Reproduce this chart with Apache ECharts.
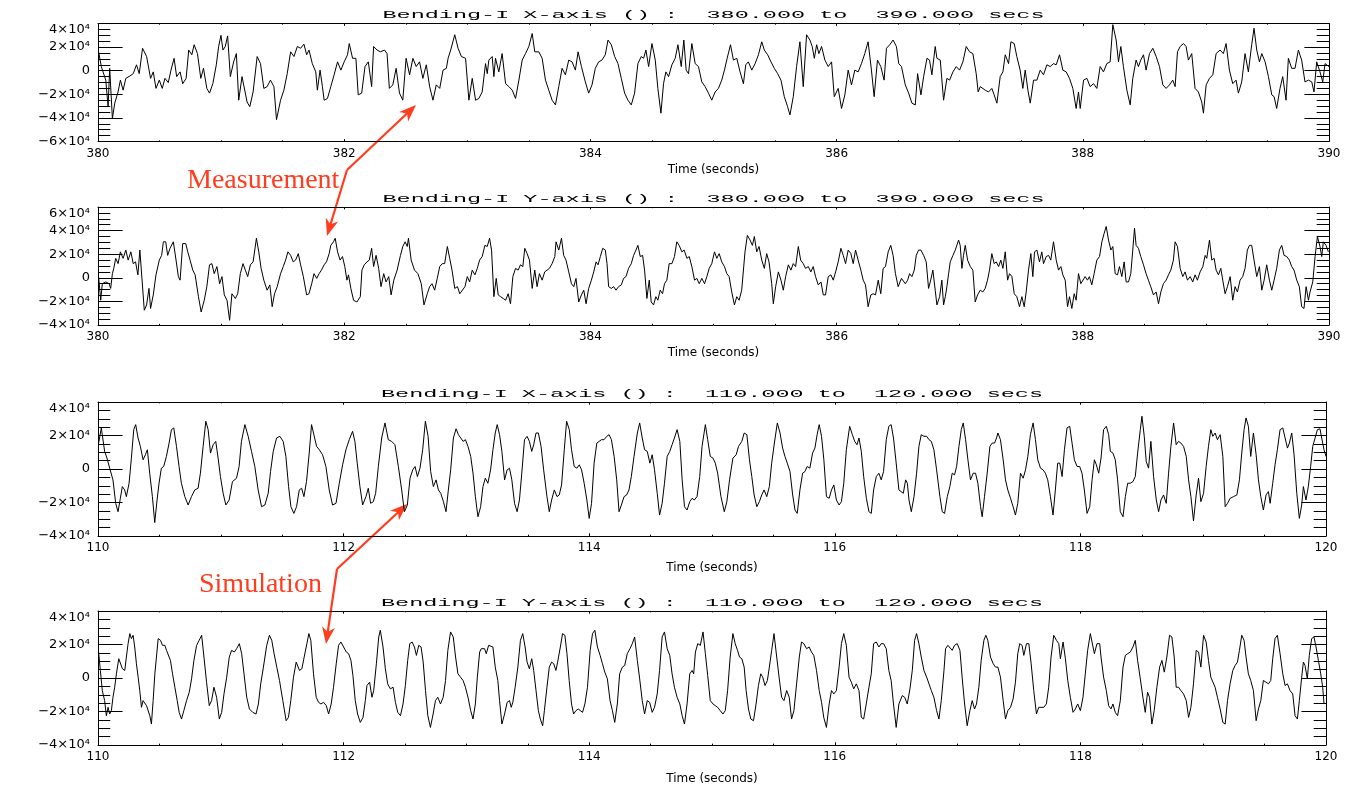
<!DOCTYPE html>
<html>
<head>
<meta charset="utf-8">
<script src="https://cdn.jsdelivr.net/npm/echarts@6/dist/echarts.min.js"></script>
<style>
html,body{margin:0;padding:0;background:#fff;}
#chart{width:1357px;height:786px;}
</style>
</head>
<body>
<div id="chart"></div>
<script>
// ---------------- DATA ----------------
const panelTitles = [
  'Bending-I X-axis () :  380.000 to  390.000 secs',
  'Bending-I Y-axis () :  380.000 to  390.000 secs',
  'Bending-I X-axis () :  110.000 to  120.000 secs',
  'Bending-I Y-axis () :  110.000 to  120.000 secs'
];
const xAxisName = 'Time (seconds)';
const measuredRange = [380, 390];
const simulatedRange = [110, 120];
const yRanges = [[-60000, 40000], [-40000, 60000], [-40000, 40000], [-40000, 40000]];
const yTickValues = [-60000, -40000, -20000, 0, 20000, 40000, 60000];
const yTickLabels = ['\u22126\u00d710\u2074', '\u22124\u00d710\u2074', '\u22122\u00d710\u2074', '0', '2\u00d710\u2074', '4\u00d710\u2074', '6\u00d710\u2074'];
const annotationLabels = ['Measurement', 'Simulation'];

// Measurement, bending X  [time s, value]
const measuredX = [
[380.005,16000],[380.027,3500],[380.063,-8000],[380.082,-30500],[380.095,2000],[380.117,-40500],[380.136,-27500],[380.163,-18000],[380.182,-8000],[380.204,-16500],
[380.226,-6500],[380.259,-4500],[380.286,-2500],[380.313,5000],[380.335,-2500],[380.362,19000],[380.395,12000],[380.427,-6500],[380.449,-1000],[380.471,-15000],
[380.498,-8000],[380.522,-15000],[380.544,-6500],[380.571,-10000],[380.593,500],[380.618,10500],[380.639,-5000],[380.667,-1000],[380.688,-11000],[380.716,-6500],
[380.737,17500],[380.762,13500],[380.781,22000],[380.808,14500],[380.835,-6500],[380.857,2000],[380.884,-15000],[380.906,-19000],[380.933,-11000],[380.961,5000],
[380.980,20500],[380.999,30000],[381.015,17500],[381.034,20500],[381.053,29500],[381.075,-5000],[381.102,7500],[381.124,14500],[381.143,-25000],[381.170,-5000],
[381.211,-26500],[381.233,-30500],[381.260,-18000],[381.293,12000],[381.320,6000],[381.347,-15000],[381.374,-13500],[381.401,-8000],[381.429,-13500],[381.450,-41500],
[381.483,-25000],[381.510,-16500],[381.537,-2500],[381.565,16000],[381.592,12000],[381.619,20500],[381.646,19000],[381.673,22500],[381.695,13500],[381.714,17500],
[381.741,6000],[381.769,-1000],[381.782,-16500],[381.804,500],[381.823,-13500],[381.837,-25000],[381.864,-23500],[381.891,-13500],[381.918,-3500],[381.946,7500],
[381.973,500],[382.000,7500],[382.027,13500],[382.041,23000],[382.068,10500],[382.095,10500],[382.114,-20500],[382.142,-19000],[382.169,3500],[382.196,7500],
[382.223,-13500],[382.239,20500],[382.267,17500],[382.294,16000],[382.327,17500],[382.348,14500],[382.367,-15000],[382.395,-12000],[382.422,2000],[382.449,-19000],
[382.476,-25000],[382.503,10500],[382.531,-3500],[382.558,10500],[382.585,3500],[382.612,7500],[382.639,-6500],[382.667,5000],[382.694,-13500],[382.721,-25000],
[382.748,-12000],[382.776,-15000],[382.803,500],[382.830,2000],[382.844,10500],[382.865,17500],[382.898,30500],[382.925,19000],[382.952,12000],
[382.986,10500],[383.013,-25000],[383.040,-6500],[383.067,-25000],[383.094,-23500],[383.121,-18000],[383.148,6000],[383.162,-2500],[383.175,9000],[383.202,12000],
[383.216,-5000],[383.229,10500],[383.256,-1000],[383.283,14500],[383.311,-11000],[383.338,-13500],[383.365,-16500],[383.392,-23500],[383.419,-8000],[383.446,9000],
[383.473,14500],[383.500,20500],[383.527,31500],[383.548,16000],[383.581,16000],[383.608,10500],[383.635,-8000],[383.662,-16500],[383.689,-25000],[383.716,-29000],
[383.743,-13500],[383.770,2000],[383.797,-3500],[383.824,9000],[383.851,7500],[383.878,500],[383.900,16000],[383.927,3500],[383.959,-9500],[383.986,-19000],
[384.013,-12000],[384.040,2000],[384.067,7500],[384.094,9000],[384.121,13500],[384.143,26000],[384.170,22000],[384.197,12000],[384.224,6000],[384.251,-6500],
[384.278,-19000],[384.305,-25000],[384.332,-29000],[384.359,-19000],[384.386,6000],[384.413,12000],[384.432,10500],[384.451,17500],[384.473,3500],[384.500,23000],
[384.527,9000],[384.548,-15000],[384.573,-36000],[384.594,-11000],[384.613,-1000],[384.635,-5000],[384.662,5000],[384.689,10500],[384.711,22000],[384.738,3500],
[384.759,26000],[384.778,500],[384.797,-2500],[384.824,23000],[384.851,6000],[384.878,3500],[384.905,-9500],[384.932,-13500],[384.959,-19000],[384.986,-25000],
[385.013,-18000],[385.040,-15000],[385.067,-8000],[385.089,500],[385.111,10500],[385.138,22000],[385.162,9000],[385.189,10500],[385.216,-1000],[385.243,-11000],
[385.262,5000],[385.283,7500],[385.311,500],[385.338,6000],[385.365,13500],[385.392,24500],[385.413,17500],[385.440,13500],[385.467,7500],[385.494,2000],
[385.521,-2500],[385.548,-8000],[385.575,-22000],[385.602,-30500],[385.621,-37500],[385.648,-22000],[385.675,3500],[385.702,24500],[385.729,-13500],[385.756,30500],
[385.783,26000],[385.802,20500],[385.819,10500],[385.838,22000],[385.856,14500],[385.878,20500],[385.905,9000],[385.932,3500],[385.959,7500],[385.981,-22000],
[386.013,-15000],[386.040,-32000],[386.067,-20500],[386.094,500],[386.121,-12000],[386.148,500],[386.175,-1000],[386.202,6000],[386.229,14500],[386.256,24500],
[386.283,500],[386.305,-22000],[386.332,9000],[386.359,3500],[386.386,-8000],[386.405,19000],[386.432,22000],[386.459,26000],[386.486,20500],[386.505,6000],
[386.527,3500],[386.558,-12000],[386.585,-19000],[386.612,-27500],[386.639,-29000],[386.658,-2500],[386.685,-20500],[386.707,-5000],[386.734,10500],[386.755,9000],
[386.774,-3500],[386.801,20500],[386.815,10500],[386.842,9000],[386.869,-25000],[386.896,-6500],[386.918,-8000],[386.945,-1000],[386.972,3500],[386.999,500],
[387.026,7500],[387.053,20500],[387.080,16000],[387.107,14500],[387.134,-2500],[387.150,-18000],[387.167,-13500],[387.207,-16500],[387.234,-18000],[387.261,-15000],
[387.280,-20500],[387.302,-27500],[387.329,-5000],[387.351,-1000],[387.370,13500],[387.397,6000],[387.416,24500],[387.443,23000],[387.464,12000],[387.491,500],
[387.513,-15000],[387.532,500],[387.554,-16500],[387.573,-27500],[387.600,-8000],[387.627,-8000],[387.654,500],[387.681,-3500],[387.708,5000],[387.735,3500],
[387.762,6000],[387.784,5000],[387.811,13500],[387.838,500],[387.865,-1000],[387.892,-6500],[387.919,-15000],[387.946,-32000],[387.965,-18000],[387.979,-32000],
[388.006,-8000],[388.033,-6500],[388.060,-13500],[388.087,-11000],[388.114,-15000],[388.141,3500],[388.168,-1000],[388.195,6000],[388.222,7500],[388.244,39000],
[388.271,26000],[388.290,7500],[388.309,20500],[388.330,3500],[388.358,-16500],[388.385,-29000],[388.406,-6500],[388.433,9000],[388.452,3500],[388.471,9000],
[388.493,13500],[388.514,500],[388.542,14500],[388.569,19000],[388.596,12000],[388.623,3500],[388.650,-12000],[388.677,-15000],[388.704,-12000],[388.731,-8000],
[388.750,-13500],[388.769,16000],[388.791,20500],[388.818,23000],[388.839,20500],[388.858,9000],[388.885,14500],[388.912,-15000],[388.939,-18000],[388.966,-26500],
[388.980,-36000],[389.002,-12000],[389.029,-6500],[389.056,-3500],[389.083,14500],[389.115,17500],[389.142,14500],[389.164,23000],[389.191,500],[389.218,-11000],
[389.245,-8000],[389.264,-19000],[389.291,-9500],[389.318,14500],[389.345,-1000],[389.372,22000],[389.391,36000],[389.413,17500],[389.435,7500],[389.454,14500],
[389.481,7500],[389.508,-5000],[389.535,-20500],[389.554,-22000],[389.575,-32000],[389.602,-15000],[389.624,-5000],[389.651,-25000],[389.670,10500],[389.697,2000],
[389.724,2000],[389.751,17500],[389.778,9000],[389.805,-9500],[389.833,-8000],[389.860,-9500],[389.878,-18000],[389.900,7500],[389.927,-1000],[389.949,-9500],
[389.968,6000],[390.000,3500]
];

// Measurement, bending Y
const measuredY = [
[380.005,1000],[380.022,-19000],[380.035,-5000],[380.063,-3500],[380.090,-5000],[380.103,-9000],[380.117,3500],[380.128,8000],[380.144,16500],[380.163,12000],
[380.182,22000],[380.204,16500],[380.226,23500],[380.245,15000],[380.267,22000],[380.286,12000],[380.305,13500],[380.324,2500],[380.340,23500],[380.354,25000],
[380.376,-27500],[380.395,-23000],[380.414,-9000],[380.427,-26000],[380.449,-14500],[380.471,2500],[380.498,15000],[380.517,19000],[380.531,30500],[380.550,30500],
[380.566,19000],[380.585,25000],[380.612,30500],[380.634,15000],[380.653,1000],[380.667,-2000],[380.688,29000],[380.713,29000],[380.729,22000],[380.748,15000],
[380.770,6500],[380.789,2500],[380.816,-16000],[380.838,-29000],[380.863,-19000],[380.884,-7500],[380.906,11000],[380.925,12000],[380.944,3500],[380.966,9500],
[380.988,-5000],[381.007,1000],[381.026,-14500],[381.048,-19000],[381.069,-36000],[381.088,-13500],[381.116,-17500],[381.135,-13500],[381.156,3500],[381.178,12000],
[381.197,6500],[381.216,1000],[381.238,11000],[381.260,13500],[381.287,33500],[381.306,22000],[381.325,8000],[381.347,-2000],[381.374,-10500],[381.396,-6000],
[381.415,-24500],[381.434,-13500],[381.456,-7500],[381.483,3500],[381.505,9500],[381.524,15000],[381.543,22000],[381.565,19000],[381.586,13500],[381.605,15000],
[381.627,20500],[381.646,11000],[381.668,1000],[381.695,-14500],[381.714,-13500],[381.736,-5000],[381.755,3500],[381.777,-500],[381.796,3500],[381.815,6500],
[381.837,11000],[381.856,13500],[381.878,20500],[381.891,27500],[381.913,30500],[381.927,33500],[381.946,22000],[381.967,15000],[381.986,18000],[382.005,9500],
[382.022,-2000],[382.035,2500],[382.054,-9000],[382.076,-19000],[382.103,-20500],[382.131,-16000],[382.144,6500],[382.163,11000],[382.185,13500],[382.204,15000],
[382.223,25000],[382.239,9500],[382.259,19000],[382.280,8000],[382.299,-7500],[382.321,3500],[382.340,-3500],[382.362,1000],[382.381,-14500],[382.403,-2000],
[382.430,6500],[382.457,19000],[382.476,26500],[382.495,30500],[382.512,26500],[382.522,33500],[382.544,15000],[382.571,6500],[382.599,3500],[382.626,-5000],
[382.648,-23000],[382.675,-13500],[382.694,-7500],[382.713,-5000],[382.735,-10500],[382.756,-500],[382.776,9500],[382.797,12000],[382.816,12000],[382.838,26500],
[382.857,16500],[382.876,6500],[382.898,-9000],[382.920,-7500],[382.939,-13500],[382.952,-14500],
[382.981,-7500],[383.000,1000],[383.019,-3500],[383.040,6500],[383.062,2500],[383.081,8000],[383.100,15000],[383.121,18000],[383.143,27500],[383.162,26500],
[383.181,33500],[383.197,23500],[383.216,-16000],[383.235,-500],[383.251,-14500],[383.270,-16000],[383.292,-17500],[383.311,-19000],[383.332,-13500],[383.351,-22000],
[383.370,1000],[383.392,8000],[383.413,6500],[383.432,11000],[383.451,9500],[383.467,25000],[383.486,20500],[383.505,15000],[383.527,-9000],[383.548,6500],
[383.567,-7500],[383.586,3500],[383.608,-2000],[383.629,5000],[383.648,6500],[383.667,8000],[383.689,12000],[383.711,18000],[383.721,30500],[383.743,23500],
[383.765,33500],[383.783,19000],[383.802,15000],[383.824,5000],[383.846,-5000],[383.865,-7500],[383.883,-500],[383.905,-20500],[383.927,-14500],[383.946,-10500],
[383.965,-22000],[383.986,-9000],[384.008,-2000],[384.027,5000],[384.046,13500],[384.062,11000],[384.081,18000],[384.100,25000],[384.121,23500],[384.135,12000],
[384.148,-7500],[384.170,-9000],[384.189,-7500],[384.208,-10500],[384.229,-7500],[384.251,-6000],[384.270,-500],[384.289,1000],[384.310,8000],[384.332,12000],
[384.351,19000],[384.370,23500],[384.386,27500],[384.405,18000],[384.424,19000],[384.440,6500],[384.459,-17500],[384.478,-2000],[384.494,-20500],[384.513,-23000],
[384.532,-16000],[384.548,-19000],[384.567,-10500],[384.586,-13500],[384.602,-5000],[384.621,-2000],[384.640,12000],[384.662,12000],[384.683,18000],[384.702,30500],
[384.721,27500],[384.743,22000],[384.762,23500],[384.784,16500],[384.803,18000],[384.824,9500],[384.846,-2000],[384.865,-500],[384.884,-5000],[384.905,-500],
[384.927,-5000],[384.946,1000],[384.965,8000],[384.986,12000],[385.008,22000],[385.027,16500],[385.046,20500],[385.067,13500],[385.089,9500],[385.108,3500],
[385.127,1000],[385.148,-12000],[385.170,-23000],[385.189,-16000],[385.208,-19000],[385.229,-10500],[385.243,-9000],[385.256,22000],[385.275,36000],[385.297,32000],
[385.316,27500],[385.332,35000],[385.351,22000],[385.370,26500],[385.392,15000],[385.413,8000],[385.432,20500],[385.451,13500],[385.473,-5000],[385.486,-22000],
[385.505,-7500],[385.527,5000],[385.548,-2000],[385.567,-10500],[385.586,1000],[385.608,11000],[385.629,6500],[385.648,12000],[385.667,9500],[385.689,26500],
[385.708,15000],[385.729,12000],[385.748,8000],[385.770,9500],[385.791,5000],[385.810,9500],[385.829,1000],[385.851,-6000],[385.873,-3500],[385.892,-14500],
[385.910,-14500],[385.932,1000],[385.954,2500],[385.973,-2000],[385.992,5000],[386.013,13500],[386.035,25000],[386.054,19000],[386.073,12000],[386.094,23500],
[386.116,20500],[386.135,12000],[386.154,23500],[386.175,15000],[386.197,6500],[386.216,-2000],[386.235,-6000],[386.256,-24500],[386.278,-14500],[386.297,-13500],
[386.316,-14500],[386.338,-2000],[386.359,-13500],[386.378,8000],[386.397,9500],[386.419,22000],[386.440,27500],[386.459,19000],[386.478,3500],[386.500,-7500],
[386.527,-500],[386.558,-5000],[386.577,-2000],[386.593,3500],[386.612,1000],[386.631,6500],[386.647,19000],[386.666,23500],[386.685,23500],[386.707,19000],
[386.728,13500],[386.747,-9000],[386.761,-3500],[386.782,6500],[386.801,-10500],[386.815,-23000],[386.837,-16000],[386.855,-2000],[386.869,-23000],[386.883,-16000],
[386.896,-7500],[386.910,3500],[386.923,13500],[386.945,19000],[386.964,23500],[386.977,22000],[386.991,32000],[387.004,27500],[387.018,8000],[387.031,19000],
[387.045,27500],[387.064,15000],[387.086,9500],[387.107,6500],[387.126,-20500],[387.145,-14500],[387.167,-10500],[387.188,-12000],[387.207,-9000],[387.226,-2000],
[387.242,6500],[387.261,20500],[387.280,12000],[387.297,13500],[387.316,9500],[387.334,15000],[387.351,8000],[387.370,22000],[387.389,-2000],[387.405,3500],
[387.424,1000],[387.443,-13500],[387.464,-16000],[387.486,-24500],[387.505,-16000],[387.524,-24500],[387.540,-12000],[387.559,6500],[387.578,20500],[387.594,1000],
[387.608,22000],[387.627,23500],[387.648,13500],[387.667,22000],[387.681,12000],[387.703,18000],[387.722,19000],[387.740,15000],[387.762,30500],[387.784,15000],
[387.803,6500],[387.822,9500],[387.838,2500],[387.857,-2000],[387.876,-24500],[387.892,-16000],[387.911,-26000],[387.930,-13500],[387.946,-19000],[387.965,3500],
[387.984,-5000],[388.000,-3500],[388.019,1000],[388.038,-2000],[388.054,1000],[388.073,-6000],[388.092,3500],[388.114,15000],[388.136,18000],[388.155,30500],
[388.173,37500],[388.190,43500],[388.209,32000],[388.228,23500],[388.244,26500],[388.263,3500],[388.282,2500],[388.298,9500],[388.317,1000],[388.336,13500],
[388.352,-3500],[388.371,-3500],[388.390,3500],[388.406,23500],[388.420,42000],[388.433,27500],[388.452,25000],[388.471,18000],[388.493,11000],[388.514,3500],
[388.533,-2000],[388.552,-7500],[388.574,-14500],[388.596,-12000],[388.615,-22000],[388.634,-12000],[388.655,-5000],[388.677,-2000],[388.696,2500],[388.715,6500],
[388.736,15000],[388.750,30500],[388.769,26500],[388.791,8000],[388.812,1000],[388.831,5000],[388.850,-2000],[388.872,1000],[388.893,-3500],[388.912,2500],
[388.931,-2000],[388.953,5000],[388.975,9500],[388.994,19000],[389.007,16500],[389.029,32000],[389.048,15000],[389.067,16500],[389.083,6500],[389.102,2500],
[389.121,8000],[389.137,-2000],[389.156,-13500],[389.175,-7500],[389.197,1000],[389.218,-19000],[389.237,-7500],[389.256,-12000],[389.278,-2000],[389.299,1000],
[389.318,8000],[389.337,23500],[389.354,27500],[389.372,27500],[389.391,15000],[389.413,1000],[389.435,9500],[389.454,-10500],[389.473,-2000],[389.494,11000],
[389.516,-2000],[389.535,-10500],[389.554,-2000],[389.575,8000],[389.597,23500],[389.616,27500],[389.635,19000],[389.657,18000],[389.678,15000],[389.697,9500],
[389.716,6500],[389.738,-2000],[389.759,-7500],[389.778,-24500],[389.797,-26000],[389.814,-7500],[389.833,-19000],[389.846,-12000],[389.868,-3500],[389.887,18000],
[389.906,35000],[389.927,26500],[389.941,18000],[389.954,30500],[389.976,27500],[389.995,22000]
];

// Simulation, bending X
const simulatedX = [
[110.005,15500],[110.027,24500],[110.041,23500],[110.054,10500],[110.073,6500],[110.095,500],[110.109,1500],[110.122,-6500],[110.144,-20500],[110.163,-25500],
[110.182,-17500],[110.198,-10500],[110.217,-12500],[110.231,-16500],[110.253,-8500],[110.272,6500],[110.291,23500],[110.307,26500],[110.326,18500],[110.345,13500],
[110.367,5500],[110.386,8500],[110.402,11500],[110.421,-2500],[110.443,-16500],[110.462,-32000],[110.481,-18500],[110.497,-8500],[110.516,500],[110.535,1500],
[110.557,7500],[110.579,15500],[110.598,23500],[110.617,24500],[110.639,13500],[110.660,1500],[110.679,-8500],[110.707,-16500],[110.734,-21500],[110.761,-16500],
[110.788,-12500],[110.815,-11500],[110.834,-2500],[110.856,13500],[110.878,28500],[110.897,23500],[110.916,9500],[110.938,14500],[110.959,16500],[110.978,6500],
[110.997,-4500],[111.019,-14500],[111.041,-21500],[111.068,-18500],[111.095,-7500],[111.128,-5500],[111.149,1500],[111.168,16500],[111.196,26500],[111.223,19500],
[111.250,10500],[111.277,1500],[111.304,-12500],[111.332,-22500],[111.359,-21500],[111.386,-14500],[111.405,-1500],[111.427,10500],[111.454,18500],[111.481,19500],
[111.508,16500],[111.530,7500],[111.552,-10500],[111.571,-22500],[111.595,-26500],[111.617,-22500],[111.639,-12500],[111.658,-11500],[111.677,-16500],[111.698,-7500],
[111.720,9500],[111.739,26500],[111.758,20500],[111.780,13500],[111.802,11500],[111.829,8500],[111.856,1500],[111.883,-12500],[111.910,-21500],[111.938,-20500],
[111.965,-8500],[111.992,2500],[112.019,11500],[112.046,17500],[112.073,22500],[112.092,16500],[112.111,3500],[112.133,-10500],[112.155,-21500],[112.182,-16500],
[112.201,-11500],[112.220,-20500],[112.242,-19500],[112.261,-14500],[112.283,1500],[112.310,18500],[112.337,27500],[112.364,17500],[112.391,16500],[112.418,14500],
[112.446,1500],[112.473,-12500],[112.495,-25500],[112.519,-21500],[112.541,-5500],[112.563,-500],[112.582,1500],[112.601,-4500],[112.622,500],[112.644,11500],
[112.666,28500],[112.688,19500],[112.709,-1500],[112.731,-10500],[112.753,-6500],[112.772,-12500],[112.791,-14500],[112.813,-19500],[112.834,-25500],[112.853,-12500],
[112.872,-500],[112.894,18500],[112.916,24000],[112.935,20500],
[112.973,16500],[112.992,17500],[113.013,13500],[113.035,7500],[113.054,-2500],[113.073,-16500],[113.094,-28500],[113.116,-22500],[113.135,-10500],[113.154,-5500],
[113.175,-8500],[113.197,-500],[113.216,11500],[113.235,21500],[113.251,26500],[113.270,20500],[113.289,10500],[113.311,-6500],[113.332,-500],[113.351,500],
[113.370,-6500],[113.392,-20500],[113.413,-25500],[113.432,-18500],[113.451,-2500],[113.473,17500],[113.494,19500],[113.513,16500],[113.532,10500],[113.548,14500],
[113.567,21500],[113.586,21500],[113.608,13500],[113.629,-500],[113.656,-16500],[113.675,-25500],[113.694,-18500],[113.716,-12500],[113.738,-16500],[113.756,-15500],
[113.775,-9500],[113.797,11500],[113.816,28500],[113.838,23500],[113.856,11500],[113.878,1500],[113.900,500],[113.919,2500],[113.938,-500],[113.959,-8500],
[113.981,-18500],[114.000,-29500],[114.019,-20500],[114.040,3500],[114.062,15500],[114.081,16500],[114.100,17500],[114.121,17500],[114.143,19500],[114.162,20500],
[114.181,17500],[114.203,7500],[114.224,-6500],[114.243,-25500],[114.262,-21500],[114.284,-16500],[114.305,-15500],[114.324,-12500],[114.343,-4500],[114.365,7500],
[114.392,21500],[114.411,27500],[114.432,18500],[114.451,11500],[114.473,10500],[114.494,3500],[114.513,8500],[114.532,-500],[114.554,-14500],[114.573,-27500],
[114.594,-20500],[114.613,-8500],[114.635,7500],[114.656,10500],[114.675,14500],[114.694,18500],[114.716,23500],[114.738,16500],[114.757,-6500],[114.776,-22500],
[114.797,-24500],[114.819,-19500],[114.838,-17500],[114.856,-18500],[114.878,-16500],[114.900,-4500],[114.919,13500],[114.946,26500],[114.965,17500],[114.986,7500],
[115.008,6500],[115.027,3500],[115.046,-2500],[115.073,-16500],[115.100,-25500],[115.121,-19500],[115.143,-6500],[115.170,6500],[115.197,8500],[115.216,13500],
[115.243,16500],[115.262,21500],[115.284,20500],[115.305,5500],[115.324,-4500],[115.343,-15500],[115.365,-22500],[115.386,-19500],[115.405,-15500],[115.424,-12500],
[115.446,-16500],[115.467,-10500],[115.486,3500],[115.508,15500],[115.532,27500],[115.554,21500],[115.575,12500],[115.594,7500],[115.613,3500],[115.635,-1500],
[115.657,-15500],[115.676,-24500],[115.694,-26500],[115.716,-12500],[115.738,-2500],[115.757,-1500],[115.775,1500],[115.797,500],[115.819,9500],[115.838,12500],
[115.856,20500],[115.873,26500],[115.892,19500],[115.911,5500],[115.932,-16500],[115.954,-17500],[115.973,-12500],[115.992,-9500],[116.013,-18500],[116.035,-21500],
[116.054,-19500],[116.073,-8500],[116.094,11500],[116.121,25500],[116.143,20500],[116.162,16500],[116.181,14500],[116.197,18500],[116.216,10500],[116.235,-4500],
[116.257,-17500],[116.278,-25500],[116.297,-26500],[116.316,-12500],[116.338,-4500],[116.359,-2500],[116.378,-6500],[116.397,-1500],[116.419,17500],[116.440,25500],
[116.459,26500],[116.478,18500],[116.500,3500],[116.522,-12500],
[116.536,-13500],[116.558,-14500],[116.577,-6500],[116.591,-8500],[116.604,-18500],[116.623,-25500],[116.645,-16500],[116.666,-2500],[116.685,13500],[116.704,20500],
[116.726,19500],[116.748,19500],[116.767,17500],[116.786,16500],[116.807,11500],[116.829,-500],[116.856,-16500],[116.875,-25500],[116.894,-26500],[116.916,-16500],
[116.937,-10500],[116.956,-2500],[116.975,-3500],[116.992,1500],[117.011,13500],[117.030,23500],[117.046,27500],[117.065,17500],[117.084,5500],[117.105,-6500],
[117.127,-2500],[117.146,-2500],[117.165,-8500],[117.187,-22500],[117.200,-28500],[117.219,-16500],[117.241,-2500],[117.263,13500],[117.282,15500],[117.301,15500],
[117.317,18500],[117.328,21500],[117.349,17500],[117.371,5500],[117.390,-6500],[117.409,-12500],[117.431,-17500],[117.452,-22500],[117.471,-27500],[117.490,-20500],
[117.512,-2500],[117.534,-5500],[117.553,-500],[117.572,7500],[117.593,20500],[117.615,27500],[117.634,17500],[117.653,5500],[117.675,500],[117.696,-500],
[117.715,-2500],[117.734,-6500],[117.756,-16500],[117.777,-27500],[117.796,-12500],[117.815,3500],[117.832,3500],[117.851,-4500],[117.870,11500],[117.891,24500],
[117.913,25500],[117.932,15500],[117.951,5500],[117.973,1500],[117.994,1500],[118.013,-2500],[118.032,-12500],[118.054,-26500],[118.076,-22500],[118.095,-6500],
[118.114,5500],[118.130,2500],[118.149,-2500],[118.168,6500],[118.189,23500],[118.211,25500],[118.230,20500],[118.244,10500],[118.265,9500],[118.284,5500],
[118.303,-6500],[118.325,-25500],[118.347,-28500],[118.366,-16500],[118.385,-8500],[118.406,-8500],[118.428,-7500],[118.447,-4500],[118.466,9500],[118.488,23500],
[118.501,31500],[118.520,19500],[118.536,4500],[118.555,500],[118.574,16500],[118.596,-4500],[118.618,-18500],[118.637,-25500],[118.656,-18500],[118.677,-15500],
[118.699,-20500],[118.718,-2500],[118.737,13500],[118.759,27500],[118.780,14500],[118.799,16500],[118.818,15500],[118.840,13500],[118.862,7500],[118.881,-6500],
[118.900,-16500],[118.921,-31000],[118.943,-15500],[118.962,-5500],[118.981,-19500],[119.003,-14500],[119.024,1500],[119.043,13500],[119.062,23500],[119.078,19500],
[119.097,21500],[119.116,17500],[119.138,20500],[119.160,7500],[119.179,-22500],[119.198,-20500],[119.219,-17500],[119.247,-16500],[119.274,-15500],[119.295,-6500],
[119.314,9500],[119.333,23500],[119.349,30500],[119.368,25500],[119.387,7500],[119.409,21500],[119.431,8500],[119.450,-6500],[119.469,-16500],[119.490,-24500],
[119.512,-15500],[119.531,-13500],[119.545,-20500],[119.566,-8500],[119.585,2500],[119.604,11500],[119.626,23500],[119.648,24500],[119.667,18500],[119.686,12500],
[119.702,15500],[119.721,21500],[119.740,8500],[119.762,-14500],[119.783,-29500],[119.802,-21500],[119.816,-10500],[119.837,-18500],[119.856,-10500],[119.875,1500],
[119.892,13500],[119.911,18500],[119.930,23500],[119.951,24000],[119.965,18500],[119.984,11500],[120.000,7500]
];

// Simulation, bending Y
const simulatedY = [
[110.005,15500],[110.019,4500],[110.035,-7500],[110.054,-13500],[110.068,-22500],[110.082,-17500],[110.095,-21500],[110.109,-19500],[110.122,-11500],[110.136,-5500],
[110.150,2500],[110.169,11500],[110.182,10500],[110.199,5500],[110.218,4500],[110.231,12500],[110.245,20500],[110.259,26500],[110.272,23500],[110.286,25500],
[110.299,18500],[110.313,8500],[110.327,500],[110.340,-7500],[110.354,-17500],[110.367,-13500],[110.381,-12500],[110.395,-16500],[110.408,-15500],[110.422,-22500],
[110.435,-27500],[110.449,-13500],[110.463,2500],[110.476,12500],[110.490,23500],[110.509,22500],[110.525,19500],[110.544,19500],[110.558,16500],[110.574,16500],
[110.590,10500],[110.607,2500],[110.626,-5500],[110.645,-13500],[110.661,-20500],[110.680,-24500],[110.699,-19500],[110.721,-13500],[110.743,-8500],[110.762,-500],
[110.781,10500],[110.803,19500],[110.824,22500],[110.844,25500],[110.863,12500],[110.884,-2500],[110.906,-16500],[110.925,-13500],[110.944,-5500],[110.966,-11500],
[110.988,-24500],[111.007,-20500],[111.026,-9500],[111.048,500],[111.069,12500],[111.088,16500],[111.110,15500],[111.129,17500],[111.151,20500],[111.170,14500],
[111.189,2500],[111.211,-11500],[111.233,-18500],[111.260,-20500],[111.287,-21500],[111.306,-15500],[111.325,-3500],[111.347,6500],[111.374,19500],[111.396,25500],
[111.415,22500],[111.434,14500],[111.456,6500],[111.478,-1500],[111.505,-13500],[111.532,-25500],[111.551,-23500],[111.570,-13500],[111.592,500],[111.614,9500],
[111.627,10500],[111.641,4500],[111.660,5500],[111.679,12500],[111.701,20500],[111.717,26500],[111.733,22500],[111.755,2500],[111.777,-11500],[111.796,-14500],
[111.815,-15500],[111.837,-14500],[111.859,-16500],[111.878,-21500],[111.899,-15500],[111.918,-5500],[111.940,8500],[111.959,19500],[111.978,21500],[112.000,18500],
[112.022,15500],[112.041,14500],[112.060,10500],[112.076,1500],[112.095,-13500],[112.114,-21500],[112.136,-26500],[112.158,-23500],[112.177,-13500],[112.190,-4500],
[112.212,-2500],[112.231,-11500],[112.245,-7500],[112.267,8500],[112.286,24500],[112.299,28500],[112.321,18500],[112.340,5500],[112.359,-3500],[112.381,-6500],
[112.403,-5500],[112.422,-14500],[112.441,-20500],[112.463,-22500],[112.484,-15500],[112.503,-4500],[112.522,10500],[112.539,20500],[112.558,21500],[112.577,18500],
[112.593,13500],[112.612,19500],[112.631,18500],[112.648,9500],[112.667,-7500],[112.686,-22500],[112.707,-29500],[112.729,-21500],[112.748,-13500],[112.767,-11500],
[112.789,-15500],[112.811,-11500],[112.830,-1500],[112.849,16500],[112.871,27500],[112.893,24500],[112.912,12500],[112.931,2500],[112.952,500],
[112.973,-1500],[112.992,-5500],[113.013,-11500],[113.035,-19500],[113.054,-24500],[113.073,-15500],[113.089,500],[113.108,15500],[113.121,17500],[113.135,16500],
[113.148,17500],[113.162,14500],[113.181,19500],[113.197,20500],[113.216,18500],[113.235,6500],[113.256,-1500],[113.270,-13500],[113.289,-27500],[113.311,-21500],
[113.332,-14500],[113.351,-13500],[113.365,-17500],[113.378,-14500],[113.397,-5500],[113.419,6500],[113.440,22500],[113.459,26500],[113.478,18500],[113.494,9500],
[113.513,5500],[113.532,11500],[113.548,4500],[113.567,-7500],[113.586,-19500],[113.602,-24500],[113.621,-28500],[113.635,-19500],[113.656,-5500],[113.675,6500],
[113.694,9500],[113.711,8500],[113.729,4500],[113.743,9500],[113.765,18500],[113.783,26500],[113.802,25500],[113.819,14500],[113.837,-1500],[113.856,-15500],
[113.873,-21500],[113.892,-19500],[113.911,-18500],[113.927,-17500],[113.946,-20500],[113.965,-15500],[113.986,-5500],[114.008,16500],[114.027,26500],[114.046,28500],
[114.067,18500],[114.089,13500],[114.108,8500],[114.127,3500],[114.148,-500],[114.170,-13500],[114.189,-19500],[114.208,-26500],[114.229,-15500],[114.248,2500],
[114.270,6500],[114.289,7500],[114.310,14500],[114.332,17500],[114.351,20500],[114.370,24500],[114.392,10500],[114.411,-500],[114.432,-13500],[114.451,-21500],
[114.473,-13500],[114.492,-14500],[114.513,-20500],[114.532,-17500],[114.554,-9500],[114.573,4500],[114.594,24500],[114.613,27500],[114.635,17500],[114.656,13500],
[114.675,2500],[114.694,-5500],[114.716,-11500],[114.738,-15500],[114.757,-22500],[114.776,-27500],[114.797,-15500],[114.819,2500],[114.838,4500],[114.851,2500],
[114.865,15500],[114.884,20500],[114.905,19500],[114.927,27500],[114.946,14500],[114.965,1500],[114.986,-13500],[115.008,-15500],[115.027,-16500],[115.046,-17500],
[115.067,-19500],[115.089,-21500],[115.108,-19500],[115.127,-7500],[115.148,12500],[115.170,26500],[115.189,20500],[115.208,16500],[115.224,12500],[115.243,11500],
[115.262,6500],[115.278,-7500],[115.297,-18500],[115.316,-24500],[115.338,-25500],[115.359,-15500],[115.378,-4500],[115.397,2500],[115.413,500],[115.432,-4500],
[115.451,-1500],[115.467,6500],[115.486,16500],[115.505,26500],[115.527,12500],[115.548,-500],[115.567,-11500],[115.586,-13500],[115.608,-7500],[115.629,-11500],
[115.648,-24500],[115.667,-19500],[115.689,-3500],[115.711,12500],[115.729,21500],[115.748,20500],[115.770,17500],[115.791,18500],[115.810,15500],[115.829,13500],
[115.851,4500],[115.873,-7500],[115.892,-14500],[115.910,-23500],[115.932,-29500],[115.954,-15500],[115.973,-7500],[115.992,-9500],[116.013,-7500],[116.035,6500],
[116.054,20500],[116.073,26500],[116.094,19500],[116.116,500],[116.135,-2500],[116.154,-6500],[116.175,-3500],[116.197,-7500],[116.216,-23500],[116.235,-24500],
[116.256,-15500],[116.278,-5500],[116.297,2500],[116.316,20500],[116.338,21500],[116.359,18500],[116.378,20500],[116.397,20500],[116.419,17500],[116.440,4500],
[116.459,-1500],[116.478,-15500],[116.500,-29500],[116.522,-15500],
[116.550,-10500],[116.569,-11500],[116.590,-15500],[116.612,-6500],[116.631,4500],[116.650,22500],[116.666,26500],[116.685,20500],[116.704,12500],[116.726,4500],
[116.748,500],[116.767,-3500],[116.786,-7500],[116.807,-11500],[116.829,-19500],[116.848,-24500],[116.867,-13500],[116.889,4500],[116.902,17500],[116.921,19500],
[116.937,18500],[116.956,16500],[116.975,19500],[116.997,20500],[117.019,16500],[117.038,-500],[117.057,-15500],[117.078,-28500],[117.100,-19500],[117.119,-13500],
[117.138,-18500],[117.154,-15500],[117.173,-5500],[117.192,10500],[117.214,22500],[117.230,25500],[117.246,22500],[117.268,12500],[117.290,8500],[117.309,6500],
[117.328,6500],[117.349,500],[117.371,-13500],[117.390,-24500],[117.409,-19500],[117.431,-17500],[117.452,-12500],[117.471,-2500],[117.490,14500],[117.506,20500],
[117.525,19500],[117.539,13500],[117.561,20500],[117.580,20500],[117.599,8500],[117.620,-7500],[117.642,-21500],[117.661,-17500],[117.680,-17500],[117.702,-17500],
[117.723,-15500],[117.742,-5500],[117.761,12500],[117.783,25500],[117.805,22500],[117.824,20500],[117.837,11500],[117.859,21500],[117.878,11500],[117.897,-1500],
[117.918,-11500],[117.940,-20500],[117.959,-18500],[117.978,-15500],[118.000,-19500],[118.021,-11500],[118.040,2500],[118.059,16500],[118.081,26500],[118.095,25500],
[118.114,14500],[118.135,20500],[118.157,20500],[118.168,12500],[118.189,500],[118.211,-7500],[118.230,-16500],[118.249,-18500],[118.265,-15500],[118.284,-20500],
[118.303,-22500],[118.325,-13500],[118.347,6500],[118.366,13500],[118.385,14500],[118.406,15500],[118.428,18500],[118.447,22500],[118.466,10500],[118.488,-500],
[118.509,-11500],[118.528,-20500],[118.547,-8500],[118.563,-11500],[118.582,-27500],[118.601,-19500],[118.623,-5500],[118.645,6500],[118.664,10500],[118.683,3500],
[118.704,12500],[118.726,25500],[118.745,24500],[118.764,12500],[118.780,-5500],[118.799,-5500],[118.818,-7500],[118.840,-9500],[118.862,-13500],[118.881,-23500],
[118.900,-17500],[118.921,-3500],[118.943,16500],[118.962,15500],[118.981,6500],[119.003,25500],[119.024,21500],[119.043,10500],[119.062,500],[119.078,-500],
[119.097,-5500],[119.116,-11500],[119.138,-18500],[119.160,-26500],[119.179,-27500],[119.198,-13500],[119.219,-3500],[119.241,4500],[119.260,7500],[119.279,9500],
[119.295,16500],[119.314,25500],[119.333,22500],[119.349,12500],[119.368,2500],[119.387,-1500],[119.409,-7500],[119.431,-25500],[119.450,-18500],[119.469,-13500],
[119.490,-1500],[119.512,-2500],[119.531,-3500],[119.550,-1500],[119.566,11500],[119.585,23500],[119.604,25500],[119.626,14500],[119.648,2500],[119.667,-4500],
[119.686,-3500],[119.707,-7500],[119.729,-9500],[119.748,-22500],[119.767,-24500],[119.783,-13500],[119.802,500],[119.816,9500],[119.829,7500],[119.848,-500],
[119.864,13500],[119.883,23500],[119.902,24500],[119.919,18500],[119.938,10500],[119.957,2500],[119.973,-5500],[119.984,-15500]
];

// ---------------- CHART ----------------
const RED = '#ff3c1e';
const LABEL_FONT = 'DejaVu Sans';
const TITLE_FONT = '11px "Liberation Mono"';
const TITLE_WIDTH = 662;
const panels = [
  { data: measuredX, range: measuredRange, y: yRanges[0], grid: { left: 98, top: 23.5, width: 1231, height: 118 }, nameGap: 22 },
  { data: measuredY, range: measuredRange, y: yRanges[1], grid: { left: 98, top: 207, width: 1231, height: 118 }, nameGap: 22 },
  { data: simulatedX, range: simulatedRange, y: yRanges[2], grid: { left: 98, top: 402, width: 1228, height: 134 }, nameGap: 26 },
  { data: simulatedY, range: simulatedRange, y: yRanges[3], grid: { left: 98, top: 611, width: 1228, height: 134 }, nameGap: 28 }
];

function yLabel(v) {
  const i = yTickValues.indexOf(v);
  return i >= 0 ? yTickLabels[i] : '';
}

const measureCtx = document.createElement('canvas').getContext('2d');
measureCtx.font = TITLE_FONT;

const grids = [], xAxes = [], yAxes = [], series = [], graphics = [];
panels.forEach((p, i) => {
  grids.push(Object.assign({ show: false }, p.grid));
  const xLen = p.grid.height * 0.02, yLen = p.grid.width * 0.02;
  const xBase = {
    gridIndex: i, type: 'value', min: p.range[0], max: p.range[1], interval: 2,
    axisLine: { show: true, onZero: false, lineStyle: { color: '#000', width: 1 } },
    axisTick: { show: true, inside: true, length: xLen, lineStyle: { color: '#000', width: 1 } },
    minorTick: { show: true, splitNumber: 4, length: xLen * 0.5, lineStyle: { color: '#000', width: 1 } },
    splitLine: { show: false }, minorSplitLine: { show: false }
  };
  xAxes.push(Object.assign({}, xBase, {
    position: 'bottom',
    axisLabel: { show: true, color: '#000', fontFamily: LABEL_FONT, fontSize: 12, margin: 6 },
    name: xAxisName, nameLocation: 'middle', nameGap: p.nameGap,
    nameTextStyle: { color: '#000', fontFamily: LABEL_FONT, fontSize: 12 }
  }));
  xAxes.push(Object.assign({}, xBase, { position: 'top', axisLabel: { show: false } }));
  const yBase = {
    gridIndex: i, type: 'value', min: p.y[0], max: p.y[1], interval: 20000,
    axisLine: { show: true, onZero: false, lineStyle: { color: '#000', width: 1 } },
    axisTick: { show: true, inside: true, length: yLen, lineStyle: { color: '#000', width: 1 } },
    minorTick: { show: true, splitNumber: 4, length: yLen * 0.5, lineStyle: { color: '#000', width: 1 } },
    splitLine: { show: false }, minorSplitLine: { show: false }
  };
  yAxes.push(Object.assign({}, yBase, {
    position: 'left',
    axisLabel: { show: true, color: '#000', fontFamily: LABEL_FONT, fontSize: 13, margin: 8,
      formatter: yLabel, verticalAlignMaxLabel: 'top' }
  }));
  yAxes.push(Object.assign({}, yBase, { position: 'right', axisLabel: { show: false } }));
  series.push({
    type: 'line', xAxisIndex: 2 * i, yAxisIndex: 2 * i, data: p.data,
    showSymbol: false, symbol: 'none', sampling: null, animation: false,
    lineStyle: { color: '#000', width: 1 }, silent: true
  });
  const cx = p.grid.left + p.grid.width / 2;
  const w = measureCtx.measureText(panelTitles[i]).width || 330;
  graphics.push({
    type: 'text', x: cx, y: p.grid.top - 8, scaleX: TITLE_WIDTH / w, scaleY: 1, silent: true,
    style: { text: panelTitles[i], font: TITLE_FONT, fill: '#000', align: 'center', verticalAlign: 'middle' }
  });
});

function arrow(from, tip) {
  const dx = tip[0] - from[0], dy = tip[1] - from[1], len = Math.hypot(dx, dy);
  const ux = dx / len, uy = dy / len, nx = -uy, ny = ux;
  const L = 17, Wd = 6.5;
  const bx = tip[0] - ux * L, by = tip[1] - uy * L;
  return [
    { type: 'line', silent: true, shape: { x1: from[0], y1: from[1], x2: tip[0] - ux * L * 0.6, y2: tip[1] - uy * L * 0.6 },
      style: { stroke: RED, lineWidth: 2.2 } },
    { type: 'polygon', silent: true, shape: { points: [tip, [bx + nx * Wd, by + ny * Wd], [tip[0] - ux * L * 0.72, tip[1] - uy * L * 0.72], [bx - nx * Wd, by - ny * Wd]] },
      style: { fill: RED } }
  ];
}

graphics.push({ type: 'text', x: 187, y: 181, silent: true,
  style: { text: annotationLabels[0], font: '28px "Liberation Serif"', fill: RED, align: 'left', verticalAlign: 'middle' } });
graphics.push({ type: 'text', x: 199, y: 585, silent: true,
  style: { text: annotationLabels[1], font: '28px "Liberation Serif"', fill: RED, align: 'left', verticalAlign: 'middle' } });
graphics.push(...arrow([347, 170], [416, 105]));
graphics.push(...arrow([347, 170], [327, 236]));
graphics.push(...arrow([337, 569], [407, 504]));
graphics.push(...arrow([337, 569], [326, 644]));

const chart = echarts.init(document.getElementById('chart'), null, { renderer: 'canvas' });
chart.setOption({
  backgroundColor: '#fff',
  animation: false,
  grid: grids,
  xAxis: xAxes,
  yAxis: yAxes,
  series: series,
  graphic: graphics
});
</script>
</body>
</html>
